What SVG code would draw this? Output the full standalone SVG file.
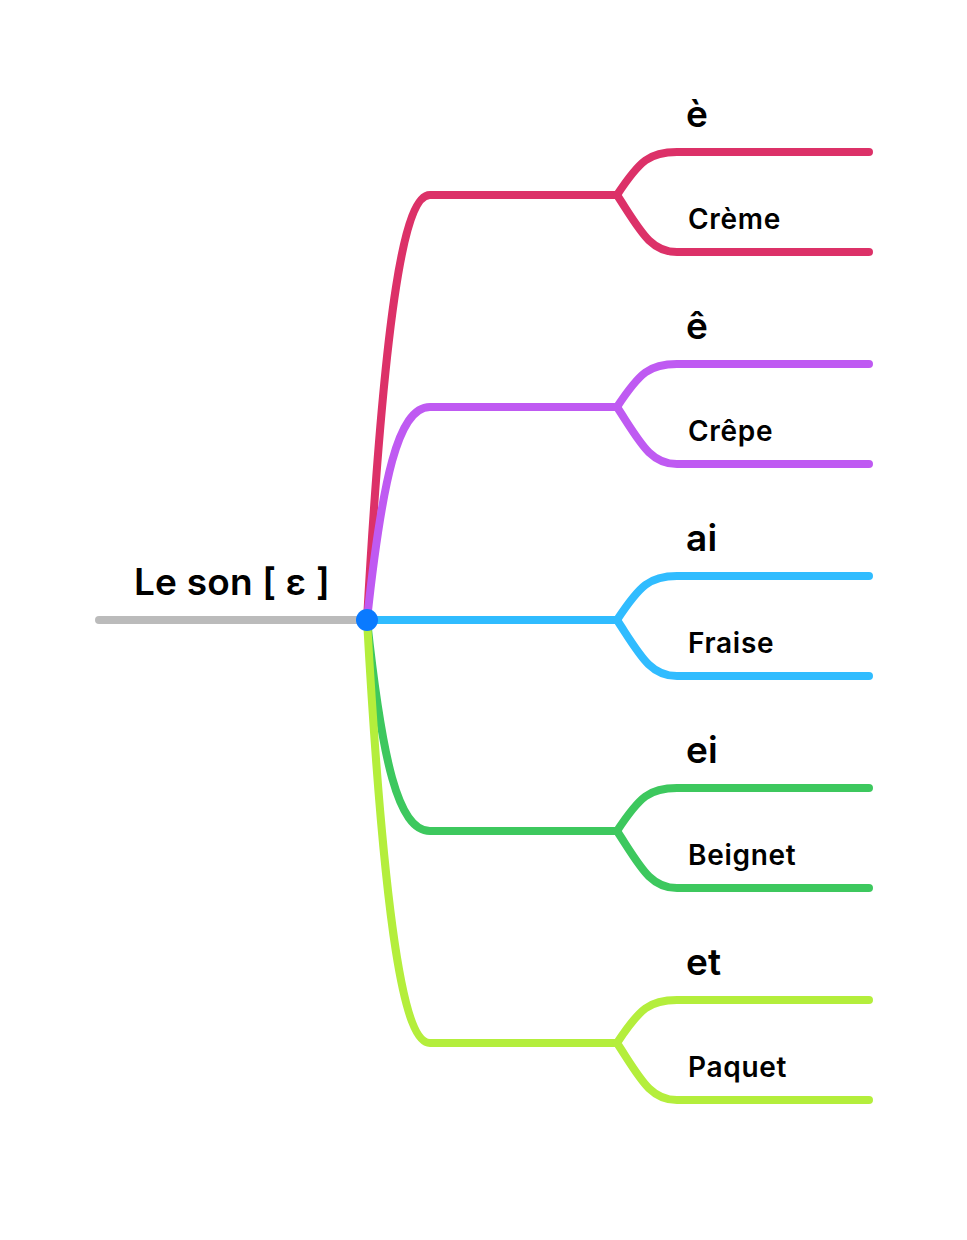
<svg xmlns="http://www.w3.org/2000/svg" width="967" height="1240" viewBox="0 0 967 1240">
<style>
.l{fill:none;stroke-width:8;stroke-linecap:round;stroke-linejoin:round}
.t{font-family:Inter,"Liberation Sans",sans-serif;fill:#000}
.big{font-size:37px;font-weight:600;letter-spacing:0.2px}
.sm{font-size:28px;font-weight:600;letter-spacing:0.7px}
</style>
<rect width="967" height="1240" fill="#fff"/>
<g id="connectors">
<path class="l" stroke="#bbbbbb" d="M99,620 L367,620"/>
<path class="l" stroke="#dc3168" d="M367,620 C385,300 405,195 430,195 L617,195"/>
<path class="l" stroke="#bf5af2" d="M367,620 C382,480 398,407 430,407 L617,407"/>
<path class="l" stroke="#30bcff" d="M367,620 L617,620"/>
<path class="l" stroke="#3dc85e" d="M367,620 C382,760 398,831 430,831 L617,831"/>
<path class="l" stroke="#b4ee3c" d="M367,620 C385,940 405,1043 430,1043 L617,1043"/>
</g>
<g id="root">
<text class="t big" x="134" y="595">Le son [ ε ]</text>
<circle cx="367" cy="620" r="11" fill="#0a7aff"/>
</g>
<g id="n1">
<path class="l" stroke="#dc3168" d="M617,195 C640,160 650,152 677,152 L869,152 M617,195 C640,230 650,252 677,252 L869,252"/>
<text class="t big" x="686" y="127">è</text>
<text class="t sm" x="688" y="229">Crème</text>
</g>
<g id="n2">
<path class="l" stroke="#bf5af2" d="M617,407 C640,372 650,364 677,364 L869,364 M617,407 C640,442 650,464 677,464 L869,464"/>
<text class="t big" x="686" y="339">ê</text>
<text class="t sm" x="688" y="441">Crêpe</text>
</g>
<g id="n3">
<path class="l" stroke="#30bcff" d="M617,620 C640,585 650,576 677,576 L869,576 M617,620 C640,655 650,676 677,676 L869,676"/>
<text class="t big" x="686" y="551">ai</text>
<text class="t sm" x="688" y="653">Fraise</text>
</g>
<g id="n4">
<path class="l" stroke="#3dc85e" d="M617,831 C640,796 650,788 677,788 L869,788 M617,831 C640,866 650,888 677,888 L869,888"/>
<text class="t big" x="686" y="763">ei</text>
<text class="t sm" x="688" y="865">Beignet</text>
</g>
<g id="n5">
<path class="l" stroke="#b4ee3c" d="M617,1043 C640,1008 650,1000 677,1000 L869,1000 M617,1043 C640,1078 650,1100 677,1100 L869,1100"/>
<text class="t big" x="686" y="975">et</text>
<text class="t sm" x="688" y="1077">Paquet</text>
</g>
</svg>
